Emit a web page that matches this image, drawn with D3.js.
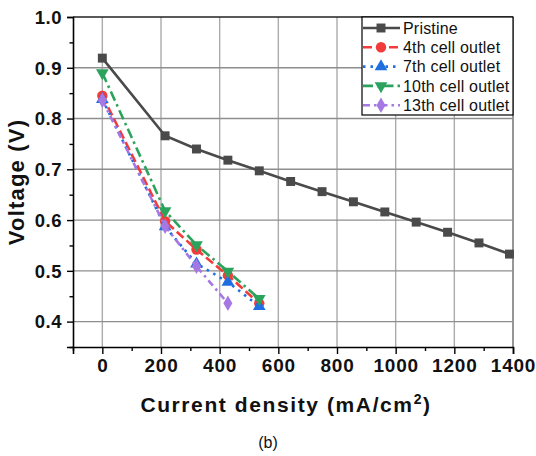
<!DOCTYPE html>
<html><head><meta charset="utf-8">
<script src="https://cdn.jsdelivr.net/npm/d3@7"></script>
<style>body{margin:0;background:#fff;} svg{display:block;font-family:"Liberation Sans",Arial,sans-serif;}</style>
</head><body>
<svg id="c" width="536" height="456"></svg>
<script>
const pristineX = [0, 214, 321, 428, 535, 642, 749, 856, 963, 1070, 1177, 1284, 1388];
const pristineV = [0.919, 0.766, 0.740, 0.718, 0.697, 0.676, 0.656, 0.636, 0.616, 0.596, 0.576, 0.555, 0.533];
const cellX = [0, 214, 321, 428, 535];
const cell4V = [0.845, 0.598, 0.542, 0.491, 0.436];
const cell7V = [0.838, 0.587, 0.514, 0.478, 0.430];
const cell10V = [0.890, 0.618, 0.551, 0.499, 0.445];
const cell13X = [0, 214, 321, 428];
const cell13V = [0.836, 0.588, 0.509, 0.436];
const seriesNames = ["Pristine", "4th cell outlet", "7th cell outlet", "10th cell outlet", "13th cell outlet"];
const xTicks = [0, 200, 400, 600, 800, 1000, 1200, 1400];
const yTicks = [0.4, 0.5, 0.6, 0.7, 0.8, 0.9, 1.0];

const series = [
  {name: seriesNames[0], xs: pristineX, ys: pristineV, color: "#4a4a4a", dash: null, sym: d3.symbolSquare, size: 80, rot: 0},
  {name: seriesNames[1], xs: cellX, ys: cell4V, color: "#f23b3b", dash: "9,4", sym: d3.symbolCircle, size: 85, rot: 0},
  {name: seriesNames[2], xs: cellX, ys: cell7V, color: "#1f6fe0", dash: "2.5,5", sym: d3.symbolTriangle, size: 70, rot: 0},
  {name: seriesNames[3], xs: cellX, ys: cell10V, color: "#2ca35c", dash: "10,4,2.5,4", sym: d3.symbolTriangle, size: 70, rot: 180},
  {name: seriesNames[4], xs: cell13X, ys: cell13V, color: "#a678e3", dash: "7,4,2.5,4", sym: d3.symbolDiamond, size: 70, rot: 0}
];

const svg = d3.select("#c");
const L = 73, R = 513, T = 17, B = 347;
const x = d3.scaleLinear().domain([-100, 1400]).range([L, R]);
const y = d3.scaleLinear().domain([0.35, 1.0]).range([B, T]);

// gridlines
const g = svg.append("g");
g.selectAll(".vg").data(xTicks).join("line")
  .attr("x1", d => x(d)).attr("x2", d => x(d)).attr("y1", T).attr("y2", B)
  .attr("stroke", d => d === 1400 ? "#6a6a6a" : "#ababab").attr("stroke-width", 1.4);
g.selectAll(".hg").data(yTicks).join("line")
  .attr("x1", L).attr("x2", R).attr("y1", d => y(d)).attr("y2", d => y(d))
  .attr("stroke", d => d === 1.0 ? "#222" : "#8e8e8e").attr("stroke-width", 1.4);

// axes
const xMinor = d3.range(-100, 1401, 100).filter(v => !xTicks.includes(v));
const yMinor = d3.range(0.35, 1.0, 0.1).map(v => +v.toFixed(2));
const xAxis = d3.axisBottom(x).tickValues(xTicks).tickSize(7).tickPadding(5).tickFormat(d3.format("d"));
const yAxis = d3.axisLeft(y).tickValues(yTicks).tickSize(6).tickPadding(5).tickFormat(d3.format(".1f"));
const xa = svg.append("g").attr("transform", `translate(0,${B})`).call(xAxis);
svg.append("g").attr("transform", `translate(0,${B})`)
  .call(d3.axisBottom(x).tickValues(xMinor).tickSize(4).tickFormat("")).call(s => s.select(".domain").remove())
  .selectAll("line").attr("stroke", "#000").attr("stroke-width", 1.4);
const ya = svg.append("g").attr("transform", `translate(${L},0)`).call(yAxis);
svg.append("g").attr("transform", `translate(${L},0)`)
  .call(d3.axisLeft(y).tickValues(yMinor).tickSize(3.5).tickFormat("")).call(s => s.select(".domain").remove())
  .selectAll("line").attr("stroke", "#000").attr("stroke-width", 1.4);
[xa, ya].forEach(a => {
  a.select(".domain").attr("stroke", "#000").attr("stroke-width", 1.6);
  a.selectAll(".tick line").attr("stroke", "#000").attr("stroke-width", 1.4);
  a.selectAll("text").attr("font-family", "Liberation Sans, Arial, sans-serif")
    .attr("font-weight", "bold").attr("fill", "#111");
});
xa.selectAll("text").attr("font-size", 19).style("letter-spacing", "0.8px");
ya.selectAll("text").attr("font-size", 18.5).style("letter-spacing", "0.5px").attr("dy", "0.34em");

// lines and markers
const line = d3.line().x(d => x(d[0])).y(d => y(d[1]));
series.forEach(s => {
  const pts = s.xs.map((v, i) => [v, s.ys[i]]);
  svg.append("path").datum(pts).attr("d", line).attr("fill", "none")
    .attr("stroke", s.color).attr("stroke-width", 2.6).attr("stroke-dasharray", s.dash);
  svg.selectAll(null).data(pts).join("path")
    .attr("d", d3.symbol().type(s.sym).size(s.size))
    .attr("transform", d => `translate(${x(d[0])},${y(d[1])}) rotate(${s.rot})`)
    .attr("fill", s.color);
});

// legend
const lg = svg.append("g");
lg.append("rect").attr("x", 362).attr("y", T).attr("width", R - 362).attr("height", 98)
  .attr("fill", "#fff").attr("stroke", "#000").attr("stroke-width", 1.2);
series.forEach((s, i) => {
  const yy = 28 + i * 19.3;
  lg.append("line").attr("x1", 363).attr("x2", 400).attr("y1", yy).attr("y2", yy)
    .attr("stroke", s.color).attr("stroke-width", 2.6).attr("stroke-dasharray", s.dash);
  lg.append("path").attr("d", d3.symbol().type(s.sym).size(s.size))
    .attr("transform", `translate(381,${yy}) rotate(${s.rot})`).attr("fill", s.color);
  lg.append("text").attr("x", 403).attr("y", yy).attr("dy", "0.36em")
    .attr("font-size", 16).attr("fill", "#111").style("letter-spacing", "0.2px").text(s.name);
});

// titles
svg.append("text").attr("transform", `translate(24,${(T + B) / 2}) rotate(-90)`)
  .attr("text-anchor", "middle").attr("font-weight", "bold").attr("font-size", 22)
  .style("letter-spacing", "1.2px").attr("fill", "#111").text("Voltage (V)");
const xt = svg.append("text").attr("x", 286).attr("y", 412).attr("text-anchor", "middle")
  .attr("font-weight", "bold").attr("font-size", 21).style("letter-spacing", "1.6px").attr("fill", "#111");
xt.append("tspan").text("Current density (mA/cm");
xt.append("tspan").attr("dy", -8).attr("font-size", 14).text("2");
xt.append("tspan").attr("dy", 8).text(")");
svg.append("text").attr("x", 268).attr("y", 448).attr("text-anchor", "middle")
  .attr("font-size", 16).attr("fill", "#111").text("(b)");
</script>
</body></html>
